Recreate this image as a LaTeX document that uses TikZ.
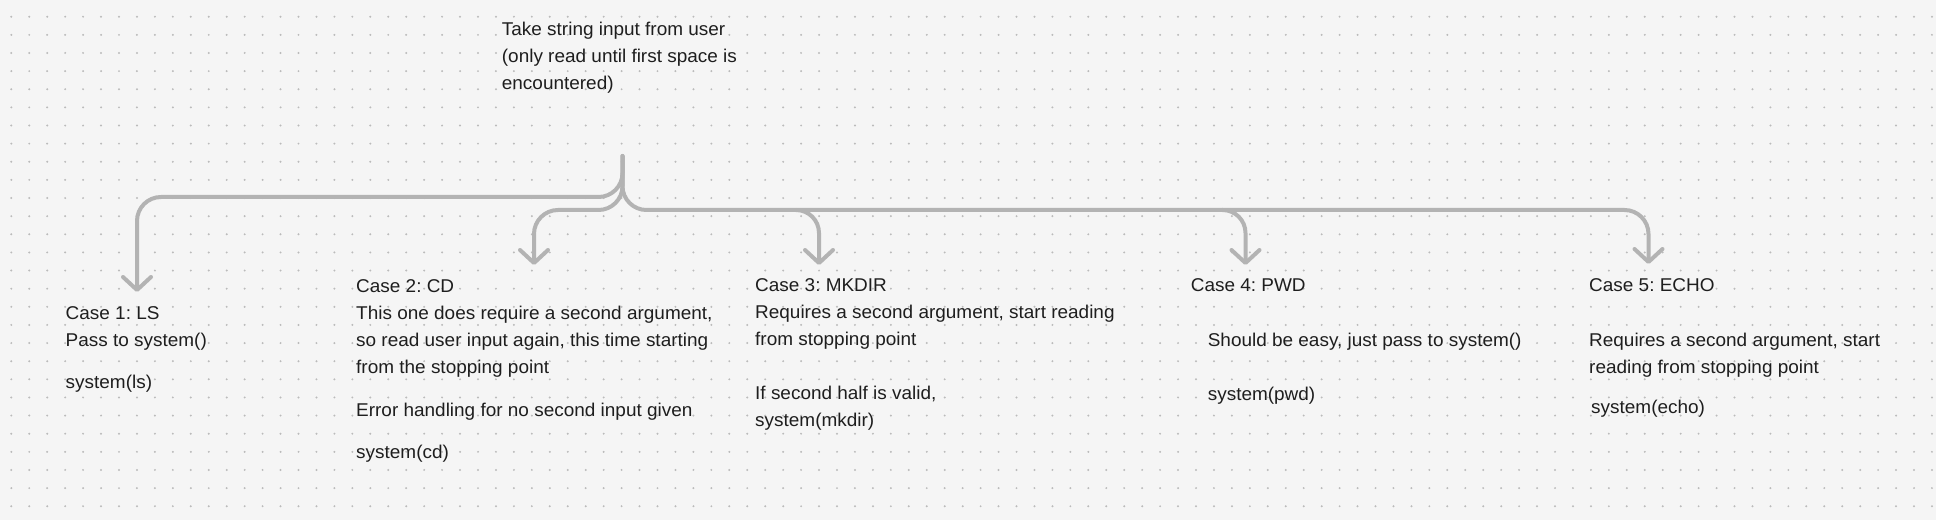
\documentclass[tikz,border=0pt]{standalone}
\usepackage{fontspec}
\setmainfont{Liberation Sans}[FakeStretch=1.025]
\usetikzlibrary{arrows.meta}
\frenchspacing
\definecolor{bgc}{HTML}{F5F5F5}
\definecolor{dotc}{HTML}{BBBBBB}
\definecolor{linec}{HTML}{B3B3B3}
\definecolor{txtc}{HTML}{1E1E1E}
\tikzset{
  lbl/.style={anchor=base west, inner sep=0pt, align=left, text=txtc,
    font=\fontsize{18.5bp}{27bp}\selectfont\frenchspacing},
  conn/.style={draw=linec, line width=4bp, rounded corners=24bp, line cap=round, line join=round,
    -{Straight Barb[length=13bp, width=28bp, line cap=round, line join=round]}},
}
\begin{document}
\begin{tikzpicture}[x=1bp,y=-1bp]
\useasboundingbox (0,0) rectangle (1936,520);
\fill[bgc] (0,0) rectangle (1936,520);
\foreach \i in {0,...,107}{
  \foreach \j in {0,...,28}{
    \fill[dotc] (11.3+17.95*\i, -1.4+18.13*\j) circle (1.1);
  }
}
% texts (anchored at the baseline of their last line)
\node[lbl] (inp) at (501.7,89.3) {Take string input from user\\(only read until first space is\\encountered)};
\node[lbl] (c1) at (65.5,388) {Case 1: LS\\Pass to system()\\[15bp]system(ls)};
\node[lbl] (c2) at (356,458) {Case 2: CD\\This one does require a second argument,\\so read user input again, this time starting\\from the stopping point\\[16bp]Error handling for no second input given\\[15bp]system(cd)};
\node[lbl] (c3) at (755,426.7) {Case 3: MKDIR\\Requires a second argument, start reading\\from stopping point\\[27bp]If second half is valid,\\system(mkdir)};
\node[lbl] (c4) at (1190.6,400) {Case 4: PWD\\[28bp]\hspace*{17bp}Should be easy, just pass to system()\\[27bp]\hspace*{17bp}system(pwd)};
\node[lbl] (c5) at (1589,413) {Case 5: ECHO\\[28bp]Requires a second argument, start\\reading from stopping point\\[13bp]\hspace*{2bp}system(echo)};
% connector points
\coordinate (src) at (622.5,156);
\coordinate (t1) at (137,292);
\coordinate (t2) at (534,265);
\coordinate (j3) at (796,210);
\coordinate (t3) at (819,265);
\coordinate (j4) at (1222,210);
\coordinate (t4) at (1245.5,265);
\coordinate (t5) at (1648.5,264);
% connectors
\draw[conn] (src) -- (src |- 0,197) -- (t1 |- 0,197) -- (t1);
\draw[conn] (src) -- (src |- j3) -- (t2 |- j3) -- (t2);
\draw[conn] (src) -- (src |- j3) -- (t5 |- j3) -- (t5);
\draw[conn, rounded corners=23bp] (j3) -- (t3 |- j3) -- (t3);
\draw[conn, rounded corners=23bp] (j4) -- (t4 |- j4) -- (t4);
\end{tikzpicture}
\end{document}
